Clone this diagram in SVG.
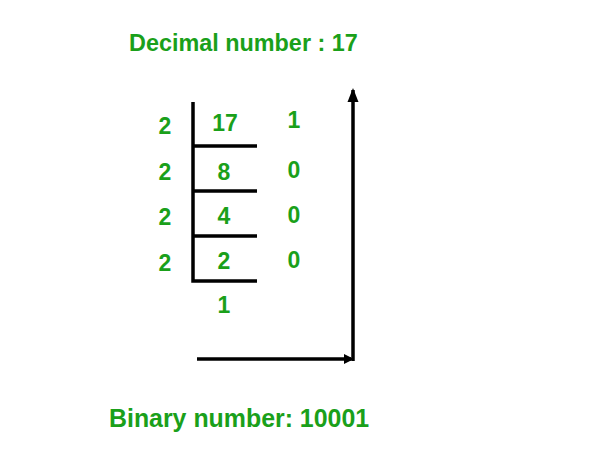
<svg xmlns="http://www.w3.org/2000/svg" width="594" height="471" viewBox="0 0 594 471">
<style>
.t{font-family:"Liberation Sans",Arial,sans-serif;font-weight:bold;fill:#1aa01a}
.d{font-size:23px;text-anchor:middle}
.ln{stroke:#000;stroke-width:3.5;fill:none}
</style>
<defs>
<marker id="ah" markerWidth="10" markerHeight="10" refX="7" refY="5" orient="auto" markerUnits="userSpaceOnUse" viewBox="0 0 10 10">
<path d="M0,0 L10,5 L0,10 z" fill="#000"/>
</marker>
<marker id="ahu" markerWidth="14" markerHeight="12" refX="12" refY="5.5" orient="auto" markerUnits="userSpaceOnUse" viewBox="0 0 14 11">
<path d="M0,0 L14,5.5 L0,11 z" fill="#000"/>
</marker>
</defs>
<rect width="594" height="471" fill="#fff"/>
<g id="title"><text class="t" x="129" y="51" font-size="23.4">Decimal number : 17</text></g>
<g id="division">
<path class="ln" d="M193,102 V281 H257 M193,146 H257 M193,191 H257 M193,236 H257"/>
</g>
<g id="divisors" class="t d">
<text x="165" y="134">2</text>
<text x="165" y="180">2</text>
<text x="165" y="225">2</text>
<text x="165" y="271">2</text>
</g>
<g id="quotients" class="t d">
<text x="225" y="131">17</text>
<text x="224" y="180">8</text>
<text x="224" y="224">4</text>
<text x="224" y="269">2</text>
<text x="224" y="313">1</text>
</g>
<g id="remainders" class="t d">
<text x="294" y="128">1</text>
<text x="294" y="178">0</text>
<text x="294" y="223">0</text>
<text x="294" y="268">0</text>
</g>
<g id="connectors">
<path class="ln" d="M197,359 H351" marker-end="url(#ah)"/>
<path class="ln" d="M353,361 V90" marker-end="url(#ahu)"/>
</g>
<g id="result"><text class="t" x="109" y="427" font-size="24.9">Binary number: 10001</text></g>
</svg>
